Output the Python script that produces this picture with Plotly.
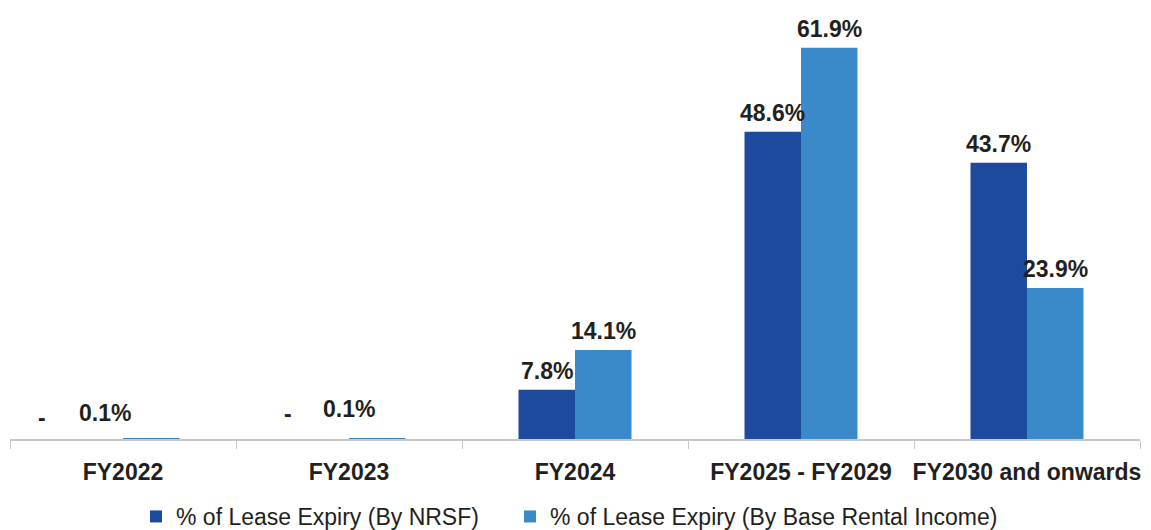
import plotly.graph_objects as go

# lease expiry profile
categories = ["FY2022", "FY2023", "FY2024", "FY2025 - FY2029", "FY2030 and onwards"]
nrsf_pct = [0.0, 0.0, 7.8, 48.6, 43.7]
income_pct = [0.1, 0.1, 14.1, 61.9, 23.9]

def labels(vals):
    return ["-" if v == 0 else f"{v:.1f}%" for v in vals]

DARK = "#1E4A9E"
LIGHT = "#3A89C9"
TXT = "#231F20"
FONT = "Liberation Sans, Arial"

# hand nudges (px) for the tiny labels in the first two groups
nudge = {("nrsf", 0): -53, ("inc", 0): -46, ("nrsf", 1): -33, ("inc", 1): -28}
lift = {("nrsf", 0): 6, ("inc", 0): 10, ("nrsf", 1): 10, ("inc", 1): 14}

fig = go.Figure()
fig.add_trace(go.Bar(x=categories, y=nrsf_pct, name="% of Lease Expiry (By NRSF)",
                     marker=dict(color=DARK, line=dict(width=0)), legend="legend"))
fig.add_trace(go.Bar(x=categories, y=income_pct, name="% of Lease Expiry (By Base Rental Income)",
                     marker=dict(color=LIGHT, line=dict(width=0)), legend="legend2"))

bar_off = 28.25
for key, vals, off in (("nrsf", nrsf_pct, -bar_off), ("inc", income_pct, bar_off)):
    for i, (c, v, t) in enumerate(zip(categories, vals, labels(vals))):
        fig.add_annotation(
            x=c, y=v, text=t, showarrow=False,
            xshift=off + nudge.get((key, i), 0), yshift=lift.get((key, i), 4),
            yanchor="bottom", xanchor="center",
            font=dict(size=23, color=TXT, family=FONT, weight="bold"),
        )

leg = dict(orientation="h", y=-0.18, yanchor="middle", xanchor="left",
           font=dict(size=23), itemwidth=30, bgcolor="rgba(0,0,0,0)")
fig.update_layout(
    width=1143, height=530,
    margin=dict(l=2, r=11, t=0, b=98),
    barmode="group", bargap=0.5, bargroupgap=0,
    plot_bgcolor="white", paper_bgcolor="white",
    font=dict(family=FONT, color=TXT),
    showlegend=True,
    legend=dict(leg, x=0.1115),
    legend2=dict(leg, x=0.4425),
)
fig.update_xaxes(
    automargin=False,
    showline=True, linecolor="#C8C8C8", linewidth=1.5,
    ticks="outside", tickson="boundaries", ticklen=8, tickcolor="#C8C8C8",
    ticklabelstandoff=12, tickangle=0,
    tickfont=dict(size=23, weight="bold", color=TXT),
    showgrid=False,
)
fig.update_yaxes(range=[0, 68.2], visible=False, showgrid=False, automargin=False)

fig.write_html("out.html")
